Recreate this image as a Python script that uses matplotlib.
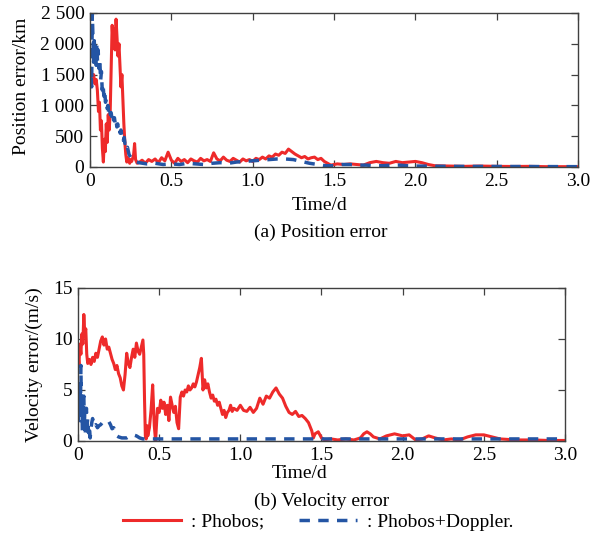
import matplotlib

matplotlib.use("Agg")
import matplotlib.pyplot as plt
from matplotlib.lines import Line2D
from matplotlib.ticker import FixedLocator, FuncFormatter

plt.rcParams["font.family"] = ["Liberation Serif", "DejaVu Serif"]
plt.rcParams["font.size"] = 14

RED = "#ee2a2a"
BLUE = "#2455a4"

# ---- (a) position error, km ----
pos_red_t = [
    0.000, 0.008, 0.015, 0.022, 0.030, 0.038, 0.045, 0.052, 0.058, 0.064,
    0.070, 0.076, 0.082, 0.088, 0.094, 0.100, 0.106, 0.112, 0.118, 0.124,
    0.130, 0.136, 0.142, 0.148, 0.154, 0.160, 0.166, 0.172, 0.178, 0.184,
    0.190, 0.196, 0.202, 0.208, 0.214, 0.220, 0.226, 0.232, 0.238, 0.244,
    0.250, 0.256, 0.262, 0.268, 0.274, 0.280, 0.290,
    0.30, 0.32, 0.34, 0.36, 0.38, 0.40, 0.42, 0.44, 0.46, 0.48,
    0.50, 0.52, 0.54, 0.56, 0.58, 0.60, 0.62, 0.64, 0.66, 0.68,
    0.70, 0.72, 0.74, 0.76, 0.78, 0.80, 0.82, 0.84, 0.86, 0.88,
    0.90, 0.92, 0.94, 0.96, 0.98, 1.00, 1.02, 1.04, 1.06, 1.08,
    1.10, 1.12, 1.14, 1.16, 1.18, 1.20, 1.22, 1.24, 1.26, 1.28,
    1.30, 1.32, 1.34, 1.36, 1.38, 1.40, 1.42, 1.44, 1.46, 1.48,
    1.50, 1.52, 1.56, 1.60, 1.64, 1.68, 1.72, 1.76, 1.80, 1.84,
    1.88, 1.92, 1.96, 2.00, 2.04, 2.08, 2.12, 2.20, 2.30, 2.40,
    2.50, 2.60, 2.70, 2.80, 2.90, 3.00,
]
pos_red = [
    1480, 1550, 1400, 1500, 1350, 1420, 1250, 900, 1050, 600,
    750, 300, 80, 450, 250, 700, 400, 850, 600, 900,
    1600, 2300, 2000, 2250, 1900, 2400, 2100, 1800, 2000, 1650,
    1300, 1500, 1100, 700, 400, 200, 80, 150, 100, 60,
    120, 90, 140, 200, 380, 120, 60,
    70, 110, 60, 120, 90, 130, 70, 150, 100, 240,
    110, 60, 140, 90, 120, 70, 130, 100, 80, 140,
    100, 120, 90, 230, 130, 100, 160, 110, 90, 140,
    110, 80, 130, 100, 120, 90, 140, 120, 160, 130,
    180, 160, 210, 190, 240, 220, 290, 250, 210, 180,
    150, 170, 130, 150, 160, 120, 140, 90, 60, 30,
    40, 50, 40, 50, 40, 30, 70, 90, 70, 60,
    90, 70, 80, 90, 70, 40, 20, 15, 10, 15,
    10, 8, 10, 5, 5, 5,
]

pos_blue_t = [
    0.000, 0.005, 0.010, 0.014, 0.018, 0.022, 0.026, 0.030, 0.034, 0.038,
    0.042, 0.046, 0.050, 0.055, 0.060, 0.065, 0.070, 0.075, 0.080, 0.085,
    0.090, 0.095, 0.100, 0.105, 0.110, 0.115, 0.120, 0.125, 0.130, 0.135,
    0.140, 0.145, 0.150, 0.155, 0.160, 0.165, 0.170, 0.175, 0.180, 0.185,
    0.190, 0.195, 0.200, 0.205, 0.210, 0.215, 0.220, 0.225, 0.230, 0.240,
    0.250, 0.260, 0.270, 0.280, 0.300, 0.35, 0.40, 0.45, 0.50, 0.55,
    0.60, 0.65, 0.70, 0.75, 0.80, 0.85, 0.90, 0.95, 1.00, 1.05,
    1.10, 1.15, 1.20, 1.25, 1.30, 1.35, 1.40, 1.45, 1.50, 1.55,
    1.60, 1.65, 1.70, 1.75, 1.80, 1.85, 1.90, 1.95, 2.00, 2.20,
    2.50, 3.00,
]
pos_blue = [
    1450, 1600, 1300, 2500, 2100, 1700, 2050, 1800, 1950, 1650,
    2000, 1700, 1900, 1600, 1750, 1400, 1550, 1250, 1350, 1150,
    1250, 1050, 1100, 950, 1000, 880, 950, 850, 880, 780,
    850, 760, 800, 700, 760, 650, 700, 600, 640, 550,
    600, 520, 540, 430, 480, 380, 400, 300, 320, 200,
    160, 120, 100, 90, 70, 50, 60, 40, 50, 40,
    60, 50, 40, 60, 70, 60, 80, 90, 100, 110,
    120, 130, 130, 120, 90, 60, 40, 20, 20, 40,
    40, 30, 30, 20, 20, 30, 30, 20, 15, 10,
    8, 5,
]

# ---- (b) velocity error, m/s ----
vel_red_t = [
    0.000, 0.006, 0.012, 0.018, 0.024, 0.030, 0.036, 0.042, 0.048, 0.054,
    0.060, 0.070, 0.080, 0.090, 0.100, 0.110, 0.120, 0.130, 0.140, 0.150,
    0.160, 0.170, 0.180, 0.190, 0.200, 0.210, 0.220, 0.230, 0.240, 0.250,
    0.260, 0.270, 0.280, 0.290, 0.300, 0.310, 0.320, 0.330, 0.340, 0.350,
    0.360, 0.370, 0.380, 0.390, 0.400, 0.405, 0.410, 0.415, 0.420, 0.425,
    0.430, 0.440, 0.450, 0.460, 0.465, 0.470, 0.478, 0.485, 0.490, 0.500,
    0.510, 0.520, 0.530, 0.540, 0.550, 0.560, 0.570, 0.580, 0.590, 0.600,
    0.610, 0.620, 0.630, 0.640, 0.650, 0.660, 0.670, 0.680, 0.690, 0.700,
    0.710, 0.720, 0.730, 0.740, 0.750, 0.760, 0.770, 0.780, 0.790, 0.800,
    0.810, 0.820, 0.830, 0.840, 0.850, 0.860, 0.870, 0.880, 0.890, 0.900,
    0.910, 0.920, 0.930, 0.940, 0.950, 0.960, 0.980, 1.000, 1.020, 1.040,
    1.060, 1.080, 1.100, 1.120, 1.140, 1.160, 1.180, 1.200, 1.220, 1.240,
    1.260, 1.280, 1.300, 1.320, 1.340, 1.360, 1.380, 1.400, 1.420, 1.440,
    1.450, 1.460, 1.480, 1.500, 1.520, 1.560, 1.600, 1.650, 1.700, 1.740,
    1.760, 1.780, 1.800, 1.820, 1.860, 1.900, 1.950, 2.000, 2.040, 2.080,
    2.120, 2.160, 2.200, 2.250, 2.300, 2.350, 2.400, 2.450, 2.500, 2.550,
    2.600, 2.700, 2.800, 2.900, 3.000,
]
vel_red = [
    8.5, 7.5, 9.5, 8.5, 10.5, 9.5, 12.4, 10.5, 11.0, 8.5,
    7.6, 8.0, 7.5, 8.2, 7.8, 8.6, 8.2, 9.0, 9.8, 10.2,
    9.4, 10.0, 9.0, 9.2, 8.6, 8.0, 7.6, 7.0, 7.4, 6.6,
    6.2, 5.4, 5.0, 6.5, 8.6, 7.6, 7.2, 8.2, 9.0, 8.2,
    9.6, 8.8, 8.5, 9.2, 9.9, 8.5, 4.0, 0.5, 0.2, 1.5,
    0.5, 1.3, 3.0, 5.5, 3.5, 1.5, 0.0, 2.0, 3.2, 2.8,
    4.0, 3.2, 3.8, 2.6, 3.5, 2.0, 4.3, 3.5, 2.8, 3.4,
    1.8, 1.2, 4.3, 4.8, 4.4, 5.0, 4.8, 5.4, 5.0, 5.2,
    5.6, 5.3, 5.8, 6.5, 7.2, 8.1, 5.0, 6.0, 5.2, 5.6,
    4.8, 4.2, 4.5, 3.9, 4.1, 3.5, 3.8, 3.2, 2.6, 3.0,
    2.3, 2.8, 3.0, 3.5, 2.9, 3.2, 3.0, 3.5, 3.0, 2.9,
    3.3, 2.8, 3.2, 4.2, 3.6, 4.4, 4.2, 4.8, 5.2, 4.6,
    4.2, 3.4, 2.8, 2.6, 2.9, 2.4, 2.5, 2.2, 1.8, 1.0,
    0.3, 0.7, 0.9, 0.3, 0.1, 0.2, 0.1, 0.2, 0.1, 0.3,
    0.7, 0.9, 0.7, 0.4, 0.2, 0.5, 0.7, 0.5, 0.6, 0.1,
    0.2, 0.5, 0.3, 0.1, 0.2, 0.1, 0.4, 0.6, 0.6, 0.4,
    0.2, 0.1, 0.1, 0.05, 0.05,
]

vel_blue_t = [
    0.000, 0.003, 0.006, 0.009, 0.012, 0.015, 0.018, 0.021, 0.024, 0.027,
    0.030, 0.033, 0.036, 0.039, 0.042, 0.045, 0.048, 0.052, 0.056, 0.060,
    0.065, 0.070, 0.075, 0.080, 0.085, 0.090, 0.100, 0.110, 0.120, 0.130,
    0.140, 0.150, 0.160, 0.170, 0.180, 0.190, 0.200, 0.210, 0.220, 0.230,
    0.240, 0.250, 0.270, 0.300, 0.320, 0.340, 0.360, 0.380, 0.400, 3.000,
]
vel_blue = [
    3.0, 1.5, 4.5, 2.0, 5.5, 3.0, 7.4, 2.5, 4.0, 1.0,
    3.5, 2.0, 4.4, 1.5, 3.0, 0.5, 2.5, 3.2, 1.5, 2.2,
    0.8, 1.5, 0.3, 1.2, 1.8, 2.2, 1.4, 1.6, 1.3, 1.5,
    1.6, 1.8, 1.9, 2.0, 2.0, 1.9, 1.6, 1.2, 1.3, 0.8,
    0.5, 0.4, 0.3, 0.3, 0.5, 0.6, 0.5, 0.3, 0.2, 0.2,
]

x_ticks = [0, 0.5, 1.0, 1.5, 2.0, 2.5, 3.0]
pos_ticks = [0, 500, 1000, 1500, 2000, 2500]
vel_ticks = [0, 5, 10, 15]


def _xfmt(v, _pos):
    return "0" if v == 0 else f"{v:.1f}"


def _kfmt(v, _pos):
    # thousands separated by a space, as in the printed figure
    return f"{int(v):,}".replace(",", " ")


def _style(ax):
    for sp in ax.spines.values():
        sp.set_color("#404040")
        sp.set_linewidth(1.0)
    ax.tick_params(direction="in", top=True, right=True, length=5,
                   width=0.9, color="#404040", labelsize=14, pad=4)
    ax.set_xlim(0, 3.0)
    ax.xaxis.set_major_locator(FixedLocator(x_ticks))
    ax.xaxis.set_major_formatter(FuncFormatter(_xfmt))


dash = (0, (3.0, 2.4))
RED_LW = 2.2
BLUE_LW = 2.5

fig = plt.figure(figsize=(6.05, 5.48), dpi=100)

ax1 = fig.add_axes([0.1488, 0.6953, 0.8066, 0.2810])
ax1.plot(pos_red_t, pos_red, color=RED, lw=RED_LW)
ax1.plot(pos_blue_t, pos_blue, color=BLUE, lw=BLUE_LW, linestyle=dash)
_style(ax1)
ax1.set_ylim(0, 2500)
ax1.yaxis.set_major_locator(FixedLocator(pos_ticks))
ax1.yaxis.set_major_formatter(FuncFormatter(_kfmt))

ax2 = fig.add_axes([0.1289, 0.1953, 0.8050, 0.2792])
ax2.plot(vel_red_t, vel_red, color=RED, lw=RED_LW)
ax2.plot(vel_blue_t, vel_blue, color=BLUE, lw=BLUE_LW, linestyle=dash)
_style(ax2)
ax2.set_ylim(0, 15)
ax2.yaxis.set_major_locator(FixedLocator(vel_ticks))

W, H = 605, 548


def _ftext(x, y, s, **kw):
    fig.text(x / W, 1 - y / H, s, ha="center", va="center", fontsize=14, **kw)


_ftext(320, 205, "Time/d")
_ftext(321, 232, "(a) Position error")
_ftext(22, 86, "Position error/km", rotation=90)
_ftext(300, 474, "Time/d")
_ftext(322, 501, "(b) Velocity error")
_ftext(34, 365, "Velocity error/(m/s)", rotation=90)

handles = [
    Line2D([], [], color=RED, lw=RED_LW),
    Line2D([], [], color=BLUE, lw=BLUE_LW, linestyle=dash),
]
fig.legend(handles, [": Phobos;", ": Phobos+Doppler."], loc="center",
           bbox_to_anchor=(318 / W, 1 - 522 / H), ncol=2, frameon=False,
           fontsize=14, handlelength=3.0, handletextpad=0.5,
           columnspacing=1.8, borderaxespad=0, borderpad=0)

fig.savefig("out.png", dpi=100)
